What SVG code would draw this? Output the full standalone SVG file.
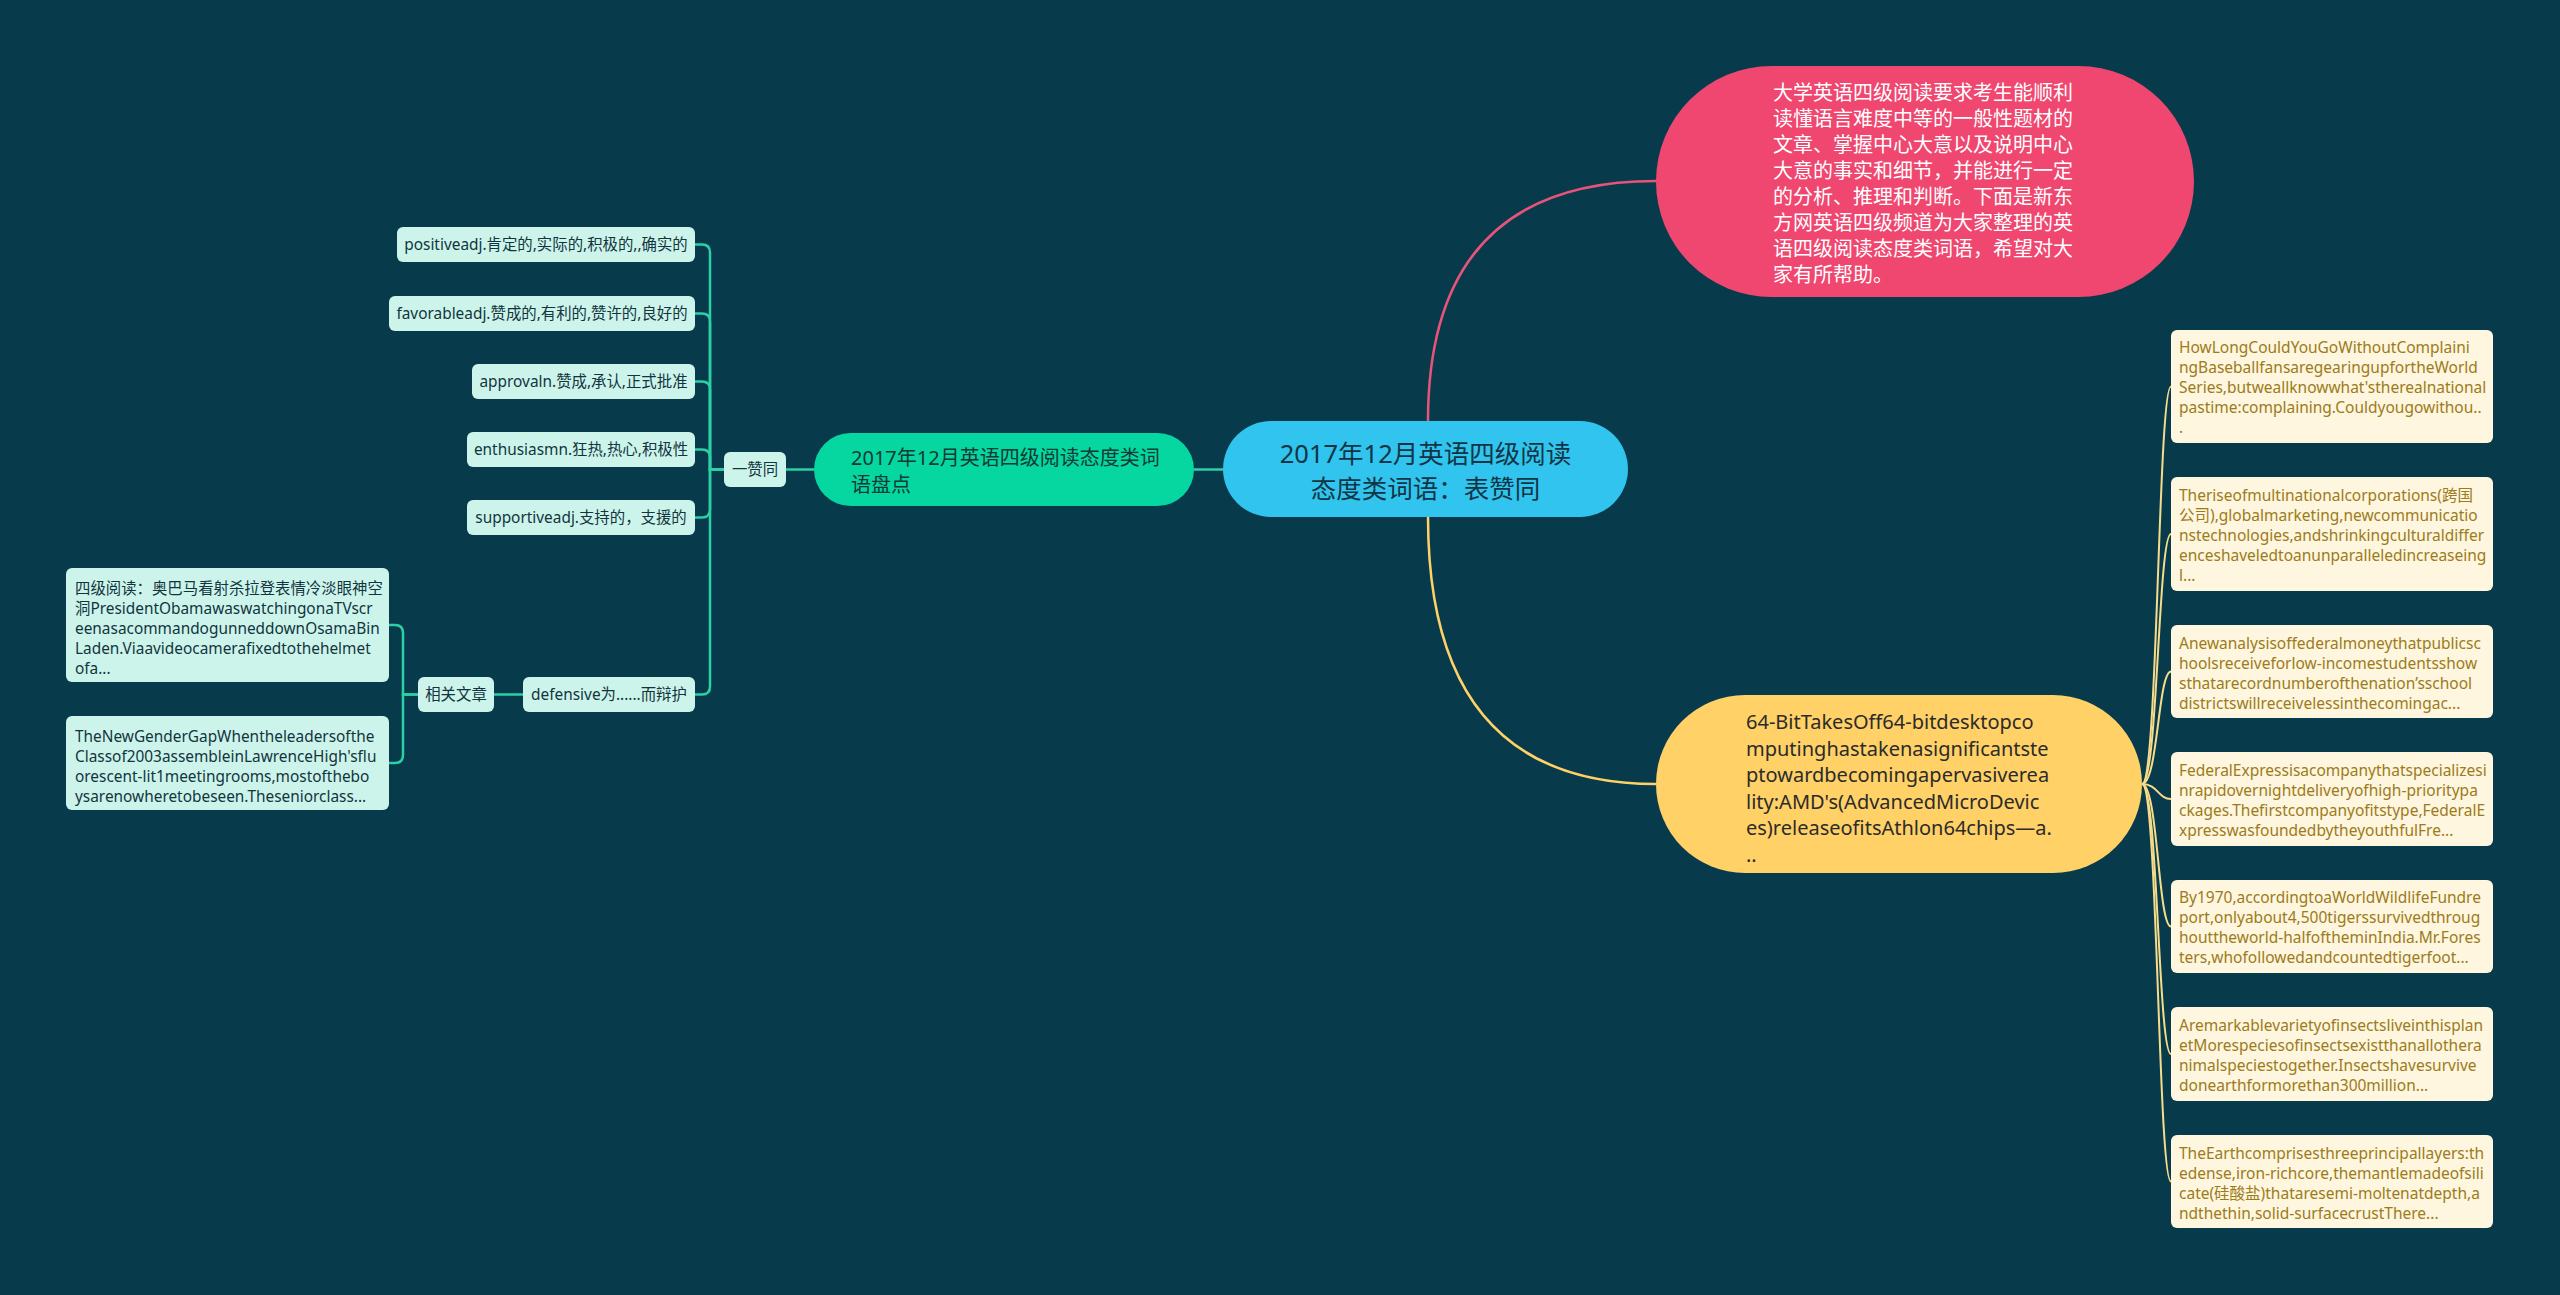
<svg xmlns="http://www.w3.org/2000/svg" width="2560" height="1295" viewBox="0 0 2560 1295">
<style>
text{font-family:"Noto Sans","Noto Sans CJK SC",sans-serif;dominant-baseline:central}
.bg{fill:#073B4C}
.c-green{fill:none;stroke:#2DCFA6;stroke-width:2.5}
.c-pink{fill:none;stroke:#E9537A;stroke-width:2.5}
.c-yel{fill:none;stroke:#FFD166;stroke-width:2.5}
.c-yl{fill:none;stroke:#F7DC8A;stroke-width:2}
.mint{fill:#CDF4EA}
.mint-t{fill:#12343F;font-size:15.4px}
.cream{fill:#FEF6DE}
.cream-t{fill:#9C7B1C;font-size:15.5px}
</style>
<rect class="bg" x="0" y="0" width="2560" height="1295"/>
<g id="connectors">
<path class="c-pink" d="M1428,421 Q1428,181 1656,181"/>
<path class="c-yel" d="M1428,517 Q1428,784 1656,784"/>
<path class="c-green" d="M1223,469.5 H1194"/>
<path class="c-green" d="M814,469.5 H786"/>
<path class="c-green" d="M724,469.5 H710 V252.5 Q710,244.5 702,244.5 H695"/>
<path class="c-green" d="M724,469.5 H710 V321.5 Q710,313.5 702,313.5 H695"/>
<path class="c-green" d="M724,469.5 H710 V389.5 Q710,381.5 702,381.5 H695"/>
<path class="c-green" d="M724,469.5 H710 V457.5 Q710,449.5 702,449.5 H695"/>
<path class="c-green" d="M724,469.5 H710 V509.5 Q710,517.5 702,517.5 H695"/>
<path class="c-green" d="M724,469.5 H710 V686.5 Q710,694.5 702,694.5 H695"/>
<path class="c-green" d="M523,694.5 H494"/>
<path class="c-green" d="M418,694.5 H403 V633 Q403,625 395,625 H389"/>
<path class="c-green" d="M418,694.5 H403 V755 Q403,763 395,763 H389"/>
<path class="c-yl" d="M2142,784 C2158,784 2158,386.5 2171,386.5"/>
<path class="c-yl" d="M2142,784 C2158,784 2158,534 2171,534"/>
<path class="c-yl" d="M2142,784 C2158,784 2158,671.5 2171,671.5"/>
<path class="c-yl" d="M2142,784 C2158,784 2158,799 2171,799"/>
<path class="c-yl" d="M2142,784 C2158,784 2158,926.5 2171,926.5"/>
<path class="c-yl" d="M2142,784 C2158,784 2158,1054 2171,1054"/>
<path class="c-yl" d="M2142,784 C2158,784 2158,1181.5 2171,1181.5"/>
</g>
<g id="central">
<rect x="1223" y="421" width="405" height="96" rx="48" fill="#30C4EE"/>
<text x="1425.5" y="453" text-anchor="middle" fill="#123545" font-size="25.5px">2017年12月英语四级阅读</text>
<text x="1425.5" y="488" text-anchor="middle" fill="#123545" font-size="25.5px">态度类词语：表赞同</text>
</g>
<g id="intro">
<rect x="1656" y="66" width="538" height="231" rx="115.5" fill="#EF476F"/>
<text fill="#FFFFFF" font-size="20px">
<tspan x="1773" y="92">大学英语四级阅读要求考生能顺利</tspan>
<tspan x="1773" y="118">读懂语言难度中等的一般性题材的</tspan>
<tspan x="1773" y="144">文章、掌握中心大意以及说明中心</tspan>
<tspan x="1773" y="170">大意的事实和细节，并能进行一定</tspan>
<tspan x="1773" y="196">的分析、推理和判断。下面是新东</tspan>
<tspan x="1773" y="222">方网英语四级频道为大家整理的英</tspan>
<tspan x="1773" y="248">语四级阅读态度类词语，希望对大</tspan>
<tspan x="1773" y="274">家有所帮助。</tspan>
</text>
</g>
<g id="articles">
<rect x="1656" y="695" width="486" height="178" rx="89" fill="#FFD166"/>
<text fill="#2B2B2B" font-size="20px">
<tspan x="1746" y="721">64-BitTakesOff64-bitdesktopco</tspan>
<tspan x="1746" y="747.5">mputinghastakenasignificantste</tspan>
<tspan x="1746" y="774">ptowardbecomingapervasiverea</tspan>
<tspan x="1746" y="800.5">lity:AMD's(AdvancedMicroDevic</tspan>
<tspan x="1746" y="827">es)releaseofitsAthlon64chips—a.</tspan>
<tspan x="1746" y="853.5">..</tspan>
</text>
</g>
<g id="topic">
<rect x="814" y="433" width="380" height="73" rx="36.5" fill="#06D6A0"/>
<text fill="#103A33" font-size="20px">
<tspan x="851" y="457">2017年12月英语四级阅读态度类词</tspan>
<tspan x="851" y="484">语盘点</tspan>
</text>
</g>
<g id="zantong">
<rect class="mint" x="724" y="452" width="62" height="35" rx="6"/>
<text class="mint-t" x="755" y="469.5" text-anchor="middle">一赞同</text>
</g>
<g id="w-positive">
<rect class="mint" x="397" y="227" width="298" height="35" rx="6"/>
<text class="mint-t" x="546" y="244.5" text-anchor="middle">positiveadj.肯定的,实际的,积极的,,确实的</text>
</g>
<g id="w-favorable">
<rect class="mint" x="389" y="296" width="306" height="35" rx="6"/>
<text class="mint-t" x="542" y="313.5" text-anchor="middle">favorableadj.赞成的,有利的,赞许的,良好的</text>
</g>
<g id="w-approval">
<rect class="mint" x="472" y="364" width="223" height="35" rx="6"/>
<text class="mint-t" x="583.5" y="381.5" text-anchor="middle">approvaln.赞成,承认,正式批准</text>
</g>
<g id="w-enthusiasm">
<rect class="mint" x="467" y="432" width="228" height="35" rx="6"/>
<text class="mint-t" x="581" y="449.5" text-anchor="middle">enthusiasmn.狂热,热心,积极性</text>
</g>
<g id="w-supportive">
<rect class="mint" x="467" y="500" width="228" height="35" rx="6"/>
<text class="mint-t" x="581" y="517.5" text-anchor="middle">supportiveadj.支持的，支援的</text>
</g>
<g id="w-defensive">
<rect class="mint" x="523" y="677" width="172" height="35" rx="6"/>
<text class="mint-t" x="609" y="694.5" text-anchor="middle">defensive为......而辩护</text>
</g>
<g id="related">
<rect class="mint" x="418" y="677" width="76" height="35" rx="6"/>
<text class="mint-t" x="456" y="694.5" text-anchor="middle">相关文章</text>
</g>
<g id="rel-a">
<rect class="mint" x="66" y="568" width="323" height="114" rx="6"/>
<text class="mint-t">
<tspan x="75" y="588">四级阅读：奥巴马看射杀拉登表情冷淡眼神空</tspan>
<tspan x="75" y="608">洞PresidentObamawaswatchingonaTVscr</tspan>
<tspan x="75" y="628">eenasacommandogunneddownOsamaBin</tspan>
<tspan x="75" y="648">Laden.Viaavideocamerafixedtothehelmet</tspan>
<tspan x="75" y="668">ofa...</tspan>
</text>
</g>
<g id="rel-b">
<rect class="mint" x="66" y="716" width="323" height="94" rx="6"/>
<text class="mint-t">
<tspan x="75" y="736">TheNewGenderGapWhentheleadersofthe</tspan>
<tspan x="75" y="756">Classof2003assembleinLawrenceHigh'sflu</tspan>
<tspan x="75" y="776">orescent-lit1meetingrooms,mostofthebo</tspan>
<tspan x="75" y="796">ysarenowheretobeseen.Theseniorclass...</tspan>
</text>
</g>
<g id="a1">
<rect class="cream" x="2171" y="330" width="322" height="113" rx="6"/>
<text class="cream-t">
<tspan x="2179" y="347">HowLongCouldYouGoWithoutComplaini</tspan>
<tspan x="2179" y="367">ngBaseballfansaregearingupfortheWorld</tspan>
<tspan x="2179" y="387">Series,butweallknowwhat'stherealnational</tspan>
<tspan x="2179" y="407">pastime:complaining.Couldyougowithou..</tspan>
<tspan x="2179" y="427">.</tspan>
</text>
</g>
<g id="a2">
<rect class="cream" x="2171" y="477" width="322" height="114" rx="6"/>
<text class="cream-t">
<tspan x="2179" y="495">Theriseofmultinationalcorporations(跨国</tspan>
<tspan x="2179" y="515">公司),globalmarketing,newcommunicatio</tspan>
<tspan x="2179" y="535">nstechnologies,andshrinkingculturaldiffer</tspan>
<tspan x="2179" y="555">enceshaveledtoanunparalleledincreaseing</tspan>
<tspan x="2179" y="575">l...</tspan>
</text>
</g>
<g id="a3">
<rect class="cream" x="2171" y="625" width="322" height="93" rx="6"/>
<text class="cream-t">
<tspan x="2179" y="643">Anewanalysisoffederalmoneythatpublicsc</tspan>
<tspan x="2179" y="663">hoolsreceiveforlow-incomestudentsshow</tspan>
<tspan x="2179" y="683">sthatarecordnumberofthenation’sschool</tspan>
<tspan x="2179" y="703">districtswillreceivelessinthecomingac...</tspan>
</text>
</g>
<g id="a4">
<rect class="cream" x="2171" y="752" width="322" height="94" rx="6"/>
<text class="cream-t">
<tspan x="2179" y="770">FederalExpressisacompanythatspecializesi</tspan>
<tspan x="2179" y="790">nrapidovernightdeliveryofhigh-prioritypa</tspan>
<tspan x="2179" y="810">ckages.Thefirstcompanyofitstype,FederalE</tspan>
<tspan x="2179" y="830">xpresswasfoundedbytheyouthfulFre...</tspan>
</text>
</g>
<g id="a5">
<rect class="cream" x="2171" y="880" width="322" height="93" rx="6"/>
<text class="cream-t">
<tspan x="2179" y="897">By1970,accordingtoaWorldWildlifeFundre</tspan>
<tspan x="2179" y="917">port,onlyabout4,500tigerssurvivedthroug</tspan>
<tspan x="2179" y="937">houttheworld-halfoftheminIndia.Mr.Fores</tspan>
<tspan x="2179" y="957">ters,whofollowedandcountedtigerfoot...</tspan>
</text>
</g>
<g id="a6">
<rect class="cream" x="2171" y="1007" width="322" height="94" rx="6"/>
<text class="cream-t">
<tspan x="2179" y="1025">Aremarkablevarietyofinsectsliveinthisplan</tspan>
<tspan x="2179" y="1045">etMorespeciesofinsectsexistthanallothera</tspan>
<tspan x="2179" y="1065">nimalspeciestogether.Insectshavesurvive</tspan>
<tspan x="2179" y="1085">donearthformorethan300million...</tspan>
</text>
</g>
<g id="a7">
<rect class="cream" x="2171" y="1135" width="322" height="93" rx="6"/>
<text class="cream-t">
<tspan x="2179" y="1153">TheEarthcomprisesthreeprincipallayers:th</tspan>
<tspan x="2179" y="1173">edense,iron-richcore,themantlemadeofsili</tspan>
<tspan x="2179" y="1193">cate(硅酸盐)thataresemi-moltenatdepth,a</tspan>
<tspan x="2179" y="1213">ndthethin,solid-surfacecrustThere...</tspan>
</text>
</g>
</svg>
